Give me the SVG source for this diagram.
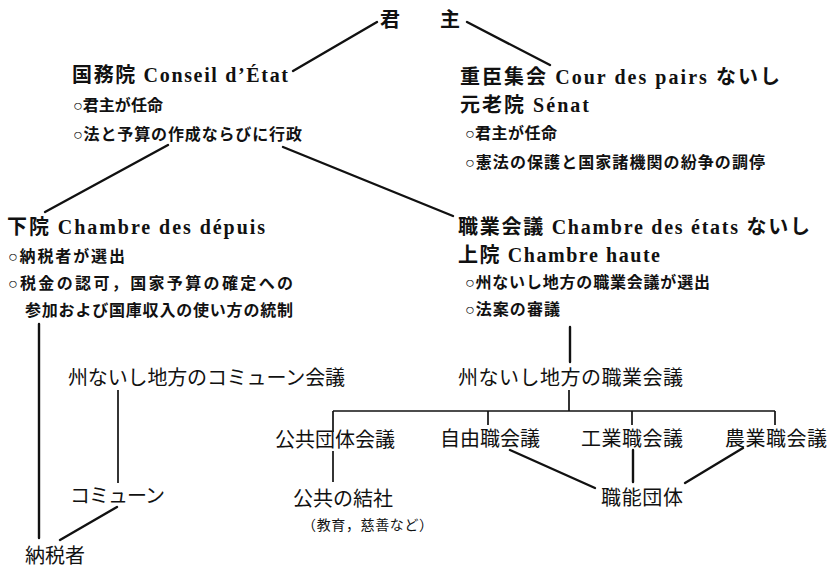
<svg xmlns="http://www.w3.org/2000/svg" width="833" height="569" viewBox="0 0 833 569">
<style>
text{font-family:"Liberation Serif","Noto Sans CJK JP",serif;fill:#111}
.h{font-size:20px;font-weight:bold}
.b{font-size:16px;font-weight:bold}
.n{font-size:20px}
.s{font-size:14px}
.ln{stroke:#111;stroke-width:2.4;fill:none;stroke-linecap:round}
.thin{stroke:#111;stroke-width:1.7;fill:none}
</style>
<rect width="833" height="569" fill="#fff"/>
<g id="connectors">
<line class="ln" x1="377" y1="22" x2="293" y2="71"/>
<line class="ln" x1="467" y1="22" x2="550" y2="65"/>
<line class="ln" x1="168" y1="145" x2="45" y2="212"/>
<line class="ln" x1="283" y1="147" x2="453" y2="216"/>
<line class="ln" x1="39" y1="324" x2="39" y2="538"/>
<line class="ln" x1="570" y1="327" x2="570" y2="362"/>
<line class="thin" x1="569" y1="390" x2="569" y2="411"/>
<line class="thin" x1="333" y1="411" x2="775" y2="411"/>
<line class="thin" x1="333" y1="411" x2="333" y2="432"/>
<line class="thin" x1="488" y1="411" x2="488" y2="425"/>
<line class="thin" x1="632" y1="411" x2="632" y2="425"/>
<line class="thin" x1="775" y1="411" x2="775" y2="425"/>
<line class="thin" x1="333" y1="451" x2="333" y2="482"/>
<line class="thin" x1="118" y1="390" x2="118" y2="483"/>
<line class="ln" x1="117" y1="507" x2="60" y2="540"/>
<line class="ln" x1="510" y1="450" x2="595" y2="488"/>
<line class="ln" x1="633" y1="450" x2="633" y2="482"/>
<line class="ln" x1="743" y1="448" x2="685" y2="483"/>
</g>
<g id="monarch">
<text class="h" x="380" y="27">君</text>
<text class="h" x="440" y="27">主</text>
</g>
<g id="conseil">
<text class="h" x="72" y="82" textLength="216" lengthAdjust="spacing">国務院 Conseil d’État</text>
<text class="b" x="73" y="111" textLength="90" lengthAdjust="spacing">○君主が任命</text>
<text class="b" x="73" y="140" textLength="229" lengthAdjust="spacing">○法と予算の作成ならびに行政</text>
</g>
<g id="senat">
<text class="h" x="460" y="84" textLength="320" lengthAdjust="spacing">重臣集会 Cour des pairs ないし</text>
<text class="h" x="460" y="112" textLength="129" lengthAdjust="spacing">元老院 Sénat</text>
<text class="b" x="465" y="139" textLength="92" lengthAdjust="spacing">○君主が任命</text>
<text class="b" x="465" y="168" textLength="300" lengthAdjust="spacing">○憲法の保護と国家諸機関の紛争の調停</text>
</g>
<g id="deputes">
<text class="h" x="7" y="234" textLength="258" lengthAdjust="spacing">下院 Chambre des dépuis</text>
<text class="b" x="8" y="262" textLength="117" lengthAdjust="spacing">○納税者が選出</text>
<text class="b" x="8" y="289" textLength="285" lengthAdjust="spacing">○税金の認可，国家予算の確定への</text>
<text class="b" x="25" y="316" textLength="268" lengthAdjust="spacing">参加および国庫収入の使い方の統制</text>
</g>
<g id="etats">
<text class="h" x="458" y="234" textLength="352" lengthAdjust="spacing">職業会議 Chambre des états ないし</text>
<text class="h" x="458" y="262" textLength="202" lengthAdjust="spacing">上院 Chambre haute</text>
<text class="b" x="465" y="288" textLength="245" lengthAdjust="spacing">○州ないし地方の職業会議が選出</text>
<text class="b" x="465" y="315" textLength="95" lengthAdjust="spacing">○法案の審議</text>
</g>
<g id="commune-council">
<text class="n" x="68" y="385" textLength="277" lengthAdjust="spacing">州ないし地方のコミューン会議</text>
</g>
<g id="regional-prof">
<text class="n" x="458" y="385" textLength="225" lengthAdjust="spacing">州ないし地方の職業会議</text>
</g>
<g id="public-council">
<text class="n" x="275" y="447" textLength="120" lengthAdjust="spacing">公共団体会議</text>
</g>
<g id="liberal">
<text class="n" x="440" y="446" textLength="100" lengthAdjust="spacing">自由職会議</text>
</g>
<g id="industrial">
<text class="n" x="581" y="446" textLength="102" lengthAdjust="spacing">工業職会議</text>
</g>
<g id="agricultural">
<text class="n" x="725" y="446" textLength="102" lengthAdjust="spacing">農業職会議</text>
</g>
<g id="functional">
<text class="n" x="601" y="505" textLength="82" lengthAdjust="spacing">職能団体</text>
</g>
<g id="public-assoc">
<text class="n" x="293" y="506" textLength="100" lengthAdjust="spacing">公共の結社</text>
<text class="s" x="302" y="530" textLength="131" lengthAdjust="spacing">（教育，慈善など）</text>
</g>
<g id="commune">
<text class="n" x="70" y="503" textLength="95" lengthAdjust="spacing">コミューン</text>
</g>
<g id="taxpayers">
<text class="n" x="25" y="563" textLength="60" lengthAdjust="spacing">納税者</text>
</g>
</svg>
